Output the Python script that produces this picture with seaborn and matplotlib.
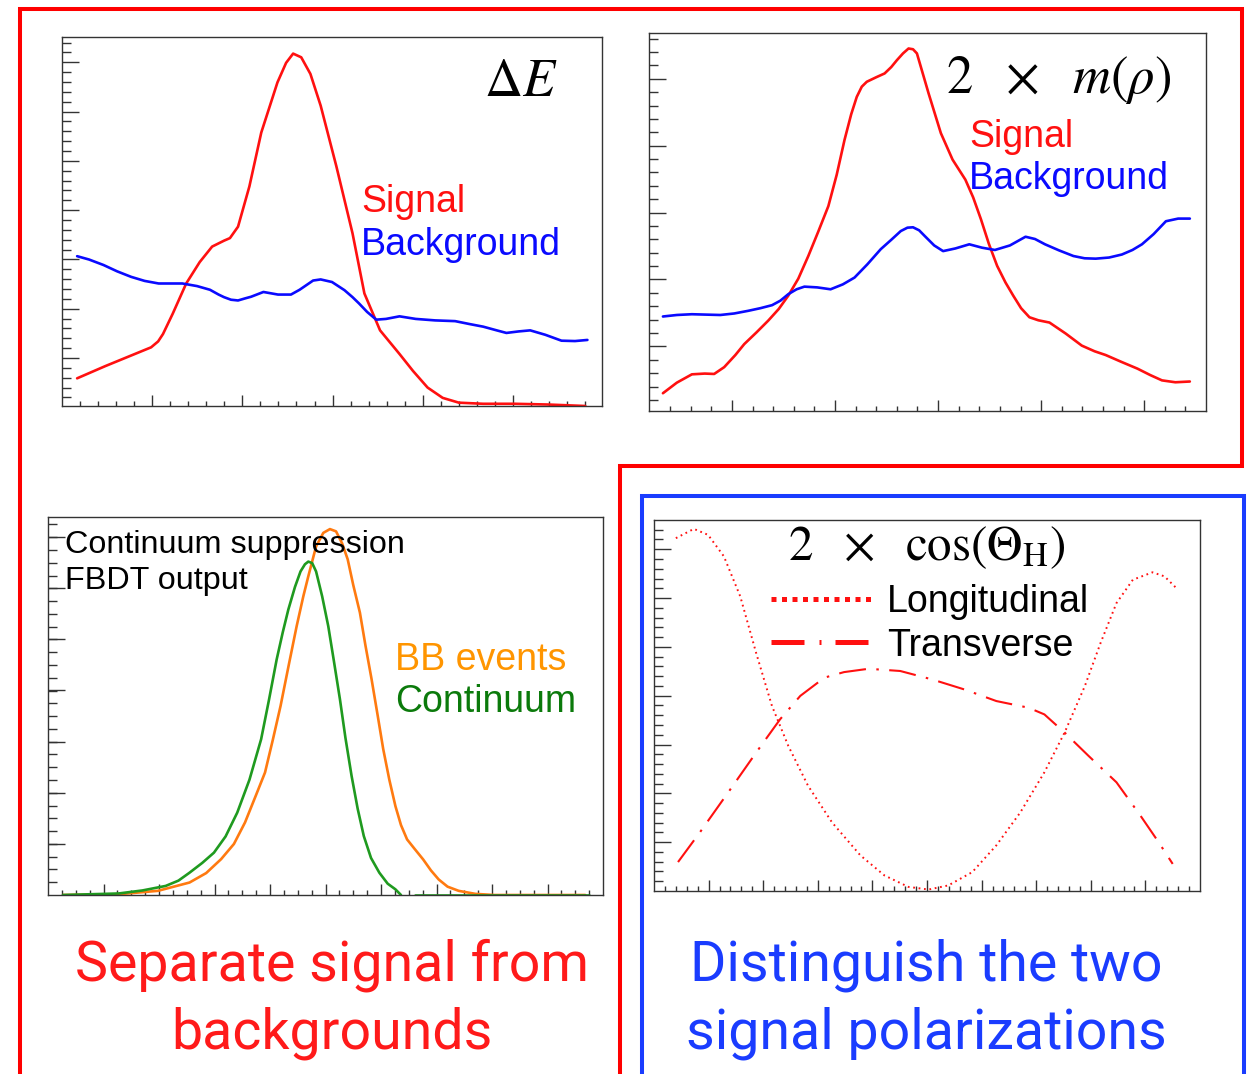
import numpy as np
import pandas as pd
import matplotlib
matplotlib.use("Agg")
import matplotlib.pyplot as plt
import seaborn as sns
from matplotlib.lines import Line2D
from matplotlib.ticker import FixedLocator

# ---------------- data (x, y in percent of each panel's axis range) ----------------
# Panel 1: Delta E
de_x_sig = [2.8, 8.0, 13.0, 16.5, 17.8, 18.7, 20.5, 23.0, 25.5, 27.8, 30.0, 31.1, 32.6, 34.7, 36.9,
            39.9, 41.5, 42.8, 44.3, 46.0, 47.9, 50.8, 53.8, 56.0, 58.9, 62.5, 65.0, 67.7, 70.5,
            73.5, 78.0, 83.8, 90.0, 96.9]
de_y_sig = [7.5, 10.8, 13.8, 15.9, 17.5, 19.5, 25.0, 33.2, 39.0, 43.2, 44.8, 45.5, 48.6, 59.5, 74.1,
            87.7, 93.0, 95.5, 94.5, 90.0, 81.4, 65.0, 46.8, 30.5, 20.5, 14.1, 9.5, 5.0, 2.2,
            0.9, 0.6, 0.6, 0.4, 0.0]
de_x_bkg = [2.8, 5.0, 7.7, 10.2, 12.8, 15.3, 17.9, 20.1, 22.3, 25.0, 27.4, 29.0, 30.0, 31.3, 32.6,
            34.0, 35.0, 37.3, 40.0, 42.4, 44.0, 45.0, 46.5, 47.9, 50.0, 52.3, 53.8, 55.0, 56.5,
            58.2, 60.0, 62.5, 65.5, 69.1, 72.8, 75.5, 78.0, 80.5, 82.3, 84.5, 86.7, 89.5, 92.5,
            95.0, 97.3]
de_y_bkg = [40.6, 39.7, 38.2, 36.5, 35.0, 33.9, 33.2, 33.2, 33.2, 32.5, 31.5, 30.2, 29.5, 28.8, 28.6,
            29.2, 29.6, 30.9, 30.2, 30.2, 31.5, 32.5, 34.0, 34.3, 33.6, 31.4, 29.5, 27.8, 25.5,
            23.4, 23.6, 24.3, 23.6, 23.2, 23.0, 22.2, 21.5, 20.5, 19.8, 20.2, 20.5, 19.3, 17.7,
            17.6, 17.9]

# Panel 2: 2 x m(rho)
mr_x_sig = [2.5, 5.0, 7.7, 10.0, 11.7, 13.5, 15.5, 17.1, 19.3, 21.4, 23.3, 25.0, 26.8, 28.6, 30.4,
            32.2, 33.7, 35.1, 36.3, 37.3, 38.2, 39.1, 40.8, 42.3, 43.5, 44.5, 45.6, 46.6, 47.4,
            48.1, 50.2, 52.4, 54.5, 56.8, 58.2, 59.6, 61.0, 62.5, 64.0, 65.4, 66.8, 68.3, 69.9,
            71.9, 74.8, 77.7, 80.0, 82.0, 84.8, 87.7, 90.0, 92.1, 94.5, 97.1]
mr_y_sig = [4.7, 7.5, 9.7, 9.9, 9.8, 11.6, 14.8, 17.7, 20.8, 23.9, 27.0, 30.5, 35.0, 41.0, 47.5,
            54.2, 62.5, 71.7, 78.5, 83.1, 85.8, 87.1, 88.3, 89.3, 91.0, 92.8, 94.6, 95.9, 95.7,
            94.6, 84.0, 73.5, 66.5, 61.2, 56.5, 50.7, 44.3, 38.4, 34.0, 30.5, 27.2, 24.8, 24.0,
            23.4, 20.5, 17.3, 15.8, 14.8, 13.0, 11.2, 9.5, 8.1, 7.6, 7.8]
mr_x_bkg = [2.5, 5.0, 7.7, 10.2, 12.8, 15.3, 17.8, 20.0, 22.1, 23.6, 25.0, 26.5, 27.9, 30.2, 32.6,
            34.8, 36.9, 39.2, 41.6, 43.5, 45.2, 46.4, 47.4, 48.5, 49.5, 51.2, 52.8, 55.0, 57.5,
            59.8, 62.1, 64.8, 67.6, 69.3, 71.1, 73.6, 76.2, 78.2, 80.2, 82.6, 84.9, 86.8, 88.5,
            90.6, 92.8, 95.0, 97.1]
mr_y_bkg = [25.0, 25.4, 25.6, 25.5, 25.4, 25.8, 26.5, 27.2, 28.0, 29.2, 30.9, 32.2, 32.9, 32.7, 32.2,
            33.5, 35.3, 38.8, 42.8, 45.3, 47.6, 48.5, 48.6, 47.8, 46.3, 43.8, 42.3, 43.0, 44.1,
            43.2, 42.6, 43.8, 46.1, 45.5, 44.1, 42.5, 41.0, 40.4, 40.3, 40.6, 41.4, 42.6, 44.1,
            46.8, 50.2, 50.9, 50.9]

# Panel 3: continuum suppression FBDT output
cs_x_bb = [2.7, 12.7, 19.8, 25.5, 28.5, 31.2, 33.5, 35.5, 37.5, 39.1, 40.5, 41.9, 43.4, 44.8, 46.0,
           46.9, 48.3, 49.6, 50.8, 51.9, 53.0, 54.0, 55.0, 56.2, 57.2, 58.3, 59.4, 60.4, 61.5,
           62.6, 63.6, 64.7, 66.0, 67.6, 69.0, 70.4, 72.0, 74.0, 77.0, 80.4, 96.8]
cs_y_bb = [0.0, 0.2, 1.1, 3.3, 5.8, 9.5, 13.5, 19.2, 26.5, 32.4, 41.0, 50.0, 61.0, 71.1, 79.0,
           84.3, 92.2, 95.8, 96.8, 96.2, 93.0, 88.8, 82.0, 74.7, 66.0, 57.1, 47.5, 38.6, 30.5,
           23.5, 18.5, 14.7, 12.3, 9.4, 6.5, 4.1, 2.2, 1.1, 0.3, 0.0, 0.0]
cs_x_cont = [2.7, 12.7, 17.0, 21.2, 23.5, 25.5, 27.8, 29.9, 32.0, 34.1, 36.3, 38.4, 39.8, 41.2, 42.3,
             43.3, 44.5, 45.5, 46.3, 46.9, 47.6, 48.3, 49.4, 50.5, 51.5, 52.6, 53.6, 54.7, 55.8,
             56.9, 58.2, 59.7, 61.2, 62.6, 63.6]
cs_y_cont = [0.0, 0.4, 1.2, 2.4, 3.8, 5.9, 8.5, 11.2, 15.5, 21.8, 30.5, 41.2, 51.5, 62.3, 69.5,
             75.5, 81.5, 85.6, 87.5, 88.2, 87.8, 85.6, 79.0, 71.1, 62.0, 51.8, 41.5, 31.5, 22.8,
             15.6, 9.8, 5.9, 3.0, 1.5, 0.0]
cs_x_cont_tail = [66.1, 80.0, 97.5]
cs_y_cont_tail = [0.0, 0.0, 0.0]

# Panel 4: 2 x cos(Theta_H)
ch_x_long = [4.0, 7.3, 9.9, 12.8, 15.8, 18.7, 21.6, 24.6, 28.2, 32.6, 37.8, 42.2, 46.6, 50.3, 53.9,
             58.3, 62.7, 67.1, 71.5, 75.2, 78.9, 81.8, 84.7, 87.7, 91.3, 93.5, 95.7]
ch_y_long = [95.1, 97.6, 96.0, 90.2, 79.4, 64.2, 49.9, 39.1, 28.4, 18.5, 9.6, 4.2, 1.1, 0.4, 1.5,
             5.1, 12.3, 21.2, 32.0, 42.7, 55.2, 66.9, 77.6, 83.9, 85.9, 84.8, 81.6]
ch_x_tran = [4.4, 8.4, 13.6, 18.7, 23.1, 26.8, 31.2, 34.8, 39.3, 45.1, 51.0, 56.9, 62.7, 68.6, 71.5,
             75.2, 79.6, 84.7, 89.1, 92.4, 95.0]
ch_y_tran = [7.8, 15.8, 26.6, 37.3, 46.3, 52.6, 57.5, 59.0, 59.9, 59.3, 57.0, 54.3, 51.2, 49.4, 47.6,
             42.7, 36.4, 29.3, 20.3, 13.2, 7.3]

# ---------------- style ----------------
sns.set_theme(style="white")
plt.rcParams["font.family"] = ["Liberation Sans", "DejaVu Sans"]
plt.rcParams["mathtext.fontset"] = "stix"

W, H = 1249, 1074
fig = plt.figure(figsize=(W / 100, H / 100), dpi=100)
fig.patch.set_facecolor("white")

RED = "#ff1010"
BLUE = "#0a0aff"
ORANGE = "#ff7a10"
GREEN = "#1f9a1f"


def px_axes(l, t, r, b):
    return fig.add_axes([l / W, 1 - b / H, (r - l) / W, (b - t) / H])


def style(ax, xmaj, xmin, ymaj, ymin):
    ax.set_xlim(0, 100)
    ax.set_ylim(0, 100)
    ax.xaxis.set_major_locator(FixedLocator(xmaj))
    ax.xaxis.set_minor_locator(FixedLocator(xmin))
    ax.yaxis.set_major_locator(FixedLocator(ymaj))
    ax.yaxis.set_minor_locator(FixedLocator(ymin))
    ax.tick_params(which="both", direction="in", top=False, right=False, bottom=True, left=True,
                   labelbottom=False, labelleft=False, color="#333333", width=1.0)
    ax.tick_params(axis="y", which="major", length=12)
    ax.tick_params(axis="y", which="minor", length=6.3)
    ax.tick_params(axis="x", which="major", length=7.6)
    ax.tick_params(axis="x", which="minor", length=3.8)
    for s in ax.spines.values():
        s.set_color("#333333")
        s.set_linewidth(1.0)
    ax.set_xlabel("")
    ax.set_ylabel("")
    ax.set_facecolor("white")


def rng(start, step):
    v = np.arange(start, 100, step)
    return v[(v > 0.5) & (v < 99.5)]


def fx(x):
    return x / W


def fy(y):
    return 1 - y / H


LW = 1.9

# ---- Panel 1 ----
ax1 = px_axes(62, 37, 602, 406)
sns.lineplot(x=de_x_sig, y=de_y_sig, ax=ax1, color=RED, lw=LW, sort=False)
sns.lineplot(x=de_x_bkg, y=de_y_bkg, ax=ax1, color=BLUE, lw=LW, sort=False)
style(ax1, rng(16.7, 16.7), rng(3.34, 3.34), rng(13.0, 13.36), rng(13.0 - 4 * 2.672, 2.672))

# ---- Panel 2 ----
ax2 = px_axes(649, 33, 1206, 411)
sns.lineplot(x=mr_x_sig, y=mr_y_sig, ax=ax2, color=RED, lw=LW, sort=False)
sns.lineplot(x=mr_x_bkg, y=mr_y_bkg, ax=ax2, color=BLUE, lw=LW, sort=False)
style(ax2, rng(14.9, 18.5), rng(3.8, 3.7), rng(17.1, 17.7), rng(17.1 - 4 * 3.54, 3.54))

# ---- Panel 3 ----
ax3 = px_axes(48, 517, 603, 895)
sns.lineplot(x=cs_x_bb, y=cs_y_bb, ax=ax3, color=ORANGE, lw=LW, sort=False)
sns.lineplot(x=cs_x_cont, y=cs_y_cont, ax=ax3, color=GREEN, lw=LW, sort=False)
sns.lineplot(x=cs_x_cont_tail, y=cs_y_cont_tail, ax=ax3, color=GREEN, lw=LW, sort=False)
style(ax3, rng(10, 10), rng(2.5, 2.5), rng(13.55, 13.52), rng(3.38, 3.38))

# ---- Panel 4 ----
ax4 = px_axes(654, 520, 1200, 891)
sns.lineplot(x=ch_x_long, y=ch_y_long, ax=ax4, color=RED, lw=1.4, sort=False,
             linestyle=(0, (0.9, 1.9)))
sns.lineplot(x=ch_x_tran, y=ch_y_tran, ax=ax4, color=RED, lw=1.5, sort=False,
             linestyle=(0, (13, 5, 1.2, 5)))
style(ax4, rng(10, 10), rng(2, 2), rng(13.16, 13.16), rng(2.632, 2.632))
handles = [Line2D([], [], color=RED, lw=3.6, linestyle=(0, (1.0, 1.1))),
           Line2D([], [], color=RED, lw=3.6, linestyle=(0, (6.6, 3.0, 0.4, 2.8)))]
leg = ax4.legend(handles, ["Longitudinal", "Transverse"], frameon=False, fontsize=27,
                 loc="upper left", bbox_to_anchor=((771 - 654) / 546, (891 - 584) / 371),
                 borderpad=0, borderaxespad=0, handlelength=2.7, handletextpad=0.4,
                 labelspacing=0.2)
for t in leg.get_texts():
    t.set_color("black")

# ---------------- panel texts ----------------
fs = 27
fig.text(fx(361), fy(212), "Signal", color=RED, fontsize=fs, va="baseline", ha="left")
fig.text(fx(361), fy(255), "Background", color=BLUE, fontsize=fs, va="baseline", ha="left")
fig.text(fx(484), fy(96), r"$\Delta E$", color="black", fontsize=38, va="baseline", ha="left")

fig.text(fx(946), fy(93), r"$2\ \ \times\ \ m(\rho)$", color="black", fontsize=38,
         va="baseline", ha="left")
fig.text(fx(969), fy(147), "Signal", color=RED, fontsize=fs, va="baseline", ha="left")
fig.text(fx(969), fy(189), "Background", color=BLUE, fontsize=fs, va="baseline", ha="left")

fig.text(fx(65), fy(553), "Continuum suppression", color="black", fontsize=23.3,
         va="baseline", ha="left")
fig.text(fx(65), fy(589), "FBDT output", color="black", fontsize=23.3, va="baseline", ha="left")
fig.text(fx(395), fy(670), "BB events", color="#ff9500", fontsize=fs, va="baseline", ha="left")
fig.text(fx(395), fy(712), "Continuum", color="#0b7a0b", fontsize=fs, va="baseline", ha="left")

fig.text(fx(788), fy(560), r"$2\ \ \times\ \ \mathrm{cos}(\Theta_{\mathrm{H}})$", color="black",
         fontsize=35.3, va="baseline", ha="left")

# ---------------- captions ----------------
cap_font = ["Roboto", "DejaVu Sans"]
fig.text(fx(332), fy(980), "Separate signal from", color="#ff1a1a", fontsize=40,
         family=cap_font, ha="center", va="baseline")
fig.text(fx(332), fy(1049), "backgrounds", color="#ff1a1a", fontsize=40,
         family=cap_font, ha="center", va="baseline")
fig.text(fx(926), fy(980), "Distinguish the two", color="#1a3cff", fontsize=40,
         family=cap_font, ha="center", va="baseline")
fig.text(fx(926), fy(1049), "signal polarizations", color="#1a3cff", fontsize=40,
         family=cap_font, ha="center", va="baseline")

# ---------------- outline boxes ----------------
red_path_x = [20, 20, 1242, 1242, 620, 620]
red_path_y = [1080, 9, 9, 466, 466, 1080]
fig.add_artist(Line2D([fx(v) for v in red_path_x], [fy(v) for v in red_path_y],
                      transform=fig.transFigure, color="#ff0000", lw=2.9,
                      solid_joinstyle="miter"))
blue_path_x = [642, 642, 1244, 1244]
blue_path_y = [1080, 496, 496, 1080]
fig.add_artist(Line2D([fx(v) for v in blue_path_x], [fy(v) for v in blue_path_y],
                      transform=fig.transFigure, color="#1a3cff", lw=2.9,
                      solid_joinstyle="miter"))

fig.savefig("out.png", dpi=100, facecolor="white")
